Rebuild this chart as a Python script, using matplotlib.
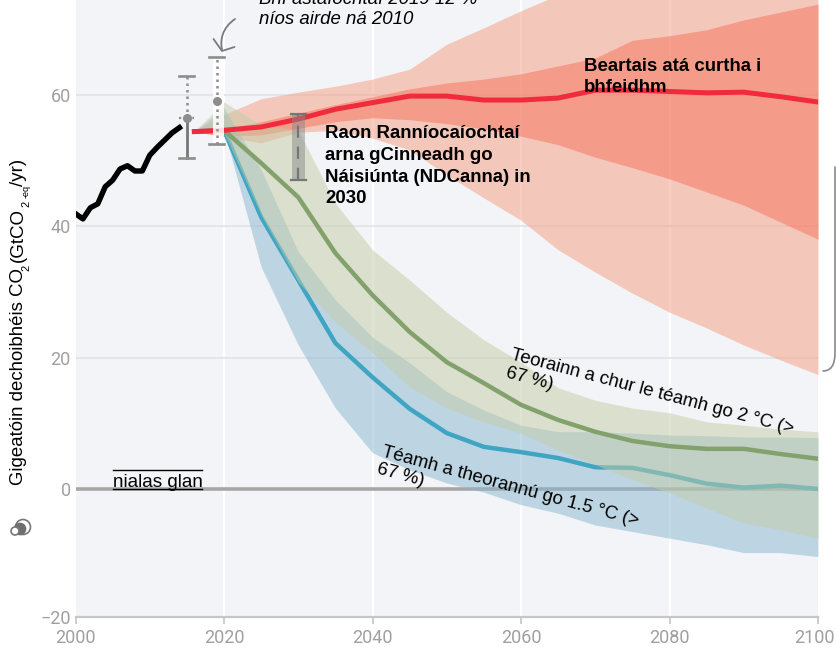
import matplotlib
matplotlib.use("Agg")
import logging
logging.getLogger("matplotlib.font_manager").setLevel(logging.ERROR)
import matplotlib.pyplot as plt
from matplotlib.path import Path
from matplotlib.patches import PathPatch, Circle
from matplotlib.lines import Line2D
from matplotlib.transforms import IdentityTransform, ScaledTranslation

plt.rcParams['font.family'] = ['Liberation Sans', 'DejaVu Sans']

hist_years = list(range(2000, 2015))
hist_vals = [41.9, 41.1, 42.8, 43.4, 46.0, 47.0, 48.7, 49.2, 48.4, 48.4, 50.8, 52.0, 53.1, 54.2, 55.0]

years = [2016, 2020, 2025, 2030, 2035, 2040, 2045, 2050, 2055, 2060, 2065, 2070, 2075, 2080, 2085, 2090, 2095, 2100]

policy_mid = [54.4, 54.6, 55.1, 56.3, 57.8, 58.8, 59.8, 59.8, 59.2, 59.2, 59.5, 60.7, 60.7, 60.5, 60.3, 60.4, 59.7, 58.9]
policy_hi_inner = [54.4, 54.8, 55.9, 57.2, 58.5, 59.7, 60.9, 61.8, 62.4, 63.2, 64.4, 65.6, 68.3, 69.0, 69.9, 71.4, 72.6, 73.8]
policy_lo_inner = [54.4, 53.7, 53.9, 54.9, 55.9, 56.5, 56.2, 55.6, 54.8, 53.7, 52.4, 50.5, 48.9, 47.2, 45.2, 43.2, 40.6, 38.0]
policy_hi_outer = [54.4, 57.0, 59.4, 60.4, 61.3, 62.4, 63.9, 67.7, 70.2, 72.8, 75.2, 76.7, 78.5, 80.0, 82.0, 84.0, 86.0, 88.0]
policy_lo_outer = [54.4, 53.6, 52.7, 54.3, 54.6, 53.4, 51.6, 47.8, 44.3, 40.9, 36.4, 33.0, 29.8, 26.9, 24.5, 21.9, 19.6, 17.4]

two_mid = [54.4, 54.6, 49.6, 44.4, 35.9, 29.5, 23.9, 19.3, 16.1, 12.8, 10.5, 8.7, 7.3, 6.5, 6.1, 6.1, 5.3, 4.6]
two_hi = [54.4, 58.9, 55.4, 54.6, 43.5, 36.4, 31.8, 26.9, 22.7, 19.3, 15.4, 13.5, 12.3, 11.6, 10.2, 9.7, 9.1, 8.7]
two_lo = [54.4, 54.2, 41.7, 31.5, 25.4, 20.7, 15.5, 12.3, 10.2, 8.5, 5.9, 3.7, 1.4, -0.6, -2.9, -5.2, -6.2, -7.6]

one_mid = [54.4, 54.6, 41.4, 31.8, 22.2, 17.0, 12.2, 8.5, 6.4, 5.6, 4.7, 3.3, 3.2, 2.1, 0.8, 0.2, 0.5, 0.0]
one_hi = [54.4, 58.0, 48.6, 36.1, 28.8, 23.1, 19.2, 14.8, 12.0, 9.7, 8.7, 8.7, 8.5, 8.2, 8.1, 7.9, 7.9, 7.8]
one_lo = [54.4, 54.6, 33.8, 21.9, 12.3, 5.5, 2.9, 0.9, -0.5, -2.4, -3.7, -5.5, -6.5, -7.5, -8.5, -9.7, -9.7, -10.3]

whisk_years = [2015, 2019]
whisk_hi = [62.9, 65.7]
whisk_mid = [56.5, 59.0]
whisk_lo = [50.4, 52.5]

ndc_year = 2030
ndc_hi = 57.0
ndc_lo = 47.0

x_ticks = [2000, 2020, 2040, 2060, 2080, 2100]
y_grid = [20, 40, 60]
y_ticks = [-19.5, 0, 20, 40, 60]
y_labels = ['\u221220', '0', '20', '40', '60']

W, H = 836, 648
BG = '#f3f4f7'


def P(x, y):
    return x / W, 1 - y / H


fig = plt.figure(figsize=(W / 100, H / 100), dpi=100, facecolor='white')
ax = fig.add_axes([75.5 / W, (H - 617) / H, (818 - 75.5) / W, 617 / H])
ax.set_facecolor(BG)
ax.set_xlim(2000, 2100)
ax.set_ylim(-19.5, 74.43)

for s in ['top', 'right', 'left']:
    ax.spines[s].set_visible(False)
ax.spines['bottom'].set_color('#c6c6c6')
ax.spines['bottom'].set_linewidth(1.6)

tick_font = dict(family=['Roboto', 'DejaVu Sans'], size=13, color='#a0a0a0')
ax.set_xticks(x_ticks)
ax.set_xticklabels([str(v) for v in x_ticks], **tick_font)
ax.set_yticks(y_ticks)
ax.set_yticklabels(y_labels, **tick_font)
ax.tick_params(axis='x', length=5, width=1.1, color='#c0c0c0', pad=3.5)
ax.tick_params(axis='y', length=0, pad=3.5)
last = ax.get_xticklabels()[-1]
last.set_transform(last.get_transform() + ScaledTranslation(-4 / 100, 0, fig.dpi_scale_trans))

for v in x_ticks[1:-1]:
    ax.axvline(v, color='white', lw=1.7, zorder=1)
for v in y_grid:
    ax.axhline(v, color='#e2e3e7', lw=1.2, zorder=1.1)
ax.axhline(0, color='#a9a6a6', lw=2.6, zorder=1.2)

ax.fill_between(years, policy_lo_outer, policy_hi_outer, color='#f59c81', alpha=0.5, lw=0, zorder=2)
ax.fill_between(years, policy_lo_inner, policy_hi_inner, color='#f47258', alpha=0.5, lw=0, zorder=2.1)

ax.fill_between(years, one_lo, one_hi, color='#89b8cf', alpha=0.5, lw=0, zorder=3)
ax.plot(years, one_mid, color='#3fa5c2', lw=3.2, zorder=3.1, solid_joinstyle='round')
ax.fill_between(years, two_lo, two_hi, color='#c3cca7', alpha=0.5, lw=0, zorder=3.2)
ax.plot(years, two_mid, color='#82a16c', lw=3.2, zorder=3.3, solid_joinstyle='round')

ax.plot(years, policy_mid, color='#ef2b3d', lw=3.6, zorder=4, solid_joinstyle='round')
ax.plot(hist_years, hist_vals, color='black', lw=3.9, zorder=4, solid_joinstyle='round')

# emissions whiskers
GREY = '#8d8d8d'
ax.bar(whisk_years[1] + 0.25, whisk_hi[1] - whisk_lo[1], bottom=whisk_lo[1], width=1.5,
       color='white', alpha=0.85, lw=0, zorder=4.5)
for i, (yr, hi, mid, lo) in enumerate(zip(whisk_years, whisk_hi, whisk_mid, whisk_lo)):
    ax.plot([yr, yr], [mid, hi], color=GREY, lw=1.8, ls=(0, (1, 1.6)), zorder=5)
    if i == 0:
        ax.plot([yr, yr], [lo, mid], color='#777777', lw=2, zorder=5)
        ax.plot([yr - 1, yr + 1], [mid, mid], color=GREY, lw=1.6, ls=(0, (1, 1)), zorder=5)
    else:
        ax.plot([yr, yr], [lo, mid], color=GREY, lw=1.8, ls=(0, (1, 1.6)), zorder=5)
    for v in (hi, lo):
        ax.plot([yr - 1, yr + 1], [v, v], color=GREY, lw=1.9, zorder=5)
    ax.plot([yr], [mid], 'o', color=GREY, ms=6.5, mew=0, zorder=5.1)

# NDC range
ax.bar(ndc_year, ndc_hi - ndc_lo, bottom=ndc_lo, width=1.8, color='#8a8a8a', alpha=0.5, lw=0, zorder=4.6)
ax.plot([ndc_year, ndc_year], [ndc_lo, ndc_hi], color='#767676', lw=1.6, ls=(0, (5.5, 4)), zorder=5)
for v in (ndc_lo, ndc_hi):
    ax.plot([ndc_year - 1, ndc_year + 1], [v, v], color='#767676', lw=1.6, zorder=5)

# texts
body = dict(color='black', family=['Liberation Sans', 'DejaVu Sans'])
BIG = 13.4
fig.text(*P(259, 4), 'Bh\u00ed asta\u00edochta\u00ed 2019 12 %', fontsize=BIG, style='italic', **body)
fig.text(*P(259, 24.5), 'n\u00edos airde n\u00e1 2010', fontsize=BIG, style='italic', **body)
fig.text(*P(584, 71), 'Beartais at\u00e1 curtha i', fontsize=BIG, weight='bold', **body)
fig.text(*P(584, 92), 'bhfeidhm', fontsize=BIG, weight='bold', **body)
for t, yy in zip(['Raon Rann\u00edoca\u00edochta\u00ed', 'arna gCinneadh go', 'N\u00e1isi\u00fanta (NDCanna) in', '2030'],
                 [138, 160, 182, 203]):
    fig.text(*P(325, yy), t, fontsize=BIG, weight='bold', **body)
fig.text(*P(513, 347), 'Teorainn a chur le t\u00e9amh go 2 \u00b0C (>\n67 %)', fontsize=13.3, rotation=-14.8,
         rotation_mode='anchor', ha='left', va='top', linespacing=1.05, **body)
fig.text(*P(384, 444), 'T\u00e9amh a theorann\u00fa go 1.5 \u00b0C (>\n67 %)', fontsize=13.3, rotation=-15.2,
         rotation_mode='anchor', ha='left', va='top', linespacing=1.05, **body)
fig.text(*P(113, 487), 'nialas glan', fontsize=13.6, **body)
fig.add_artist(Line2D([113 / W, 202 / W], [1 - 470 / H, 1 - 470 / H], color='black', lw=1, transform=fig.transFigure))
fig.add_artist(Line2D([113 / W, 202 / W], [1 - 488.6 / H, 1 - 488.6 / H], color='black', lw=1, transform=fig.transFigure))

# y axis title, in pieces for its small subscripts
rot = dict(rotation=90, rotation_mode='anchor', ha='left', va='baseline')
for t, xx, yy, fs in [('Gigeat\u00f3in dechoibh\u00e9is CO', 23, 485, 13.4), ('2', 29, 271, 8),
                      ('(GtCO', 23, 262, 13.5), ('2', 29, 207, 8), ('-eq', 29, 198, 6.5), ('/yr)', 23, 186, 13.5)]:
    fig.text(*P(xx, yy), t, fontsize=fs, **rot, **body)


def curve(pts, codes, color, lw):
    xy = [P(*p) for p in pts]
    fig.add_artist(PathPatch(Path(xy, codes), fill=False, edgecolor=color, lw=lw, transform=fig.transFigure,
                             capstyle='round', joinstyle='round'))


# hand-drawn arrow
curve([(235, 19), (222, 28), (220, 40), (222, 50)], [Path.MOVETO, Path.CURVE4, Path.CURVE4, Path.CURVE4], '#7a7a7a', 1.3)
curve([(213.5, 39), (222, 51), (234.5, 47)], [Path.MOVETO, Path.LINETO, Path.LINETO], '#7a7a7a', 1.3)
# brace at the right edge
curve([(835, 167), (835, 353), (835, 371), (823, 371)],
      [Path.MOVETO, Path.LINETO, Path.CURVE3, Path.CURVE3], '#8a8a8a', 1.2)

# small icon
for (cx, cy, r, fc, ec) in [(23, 527, 7.5, 'white', '#777777'), (20, 529, 5.5, '#6f6f6f', '#6f6f6f'),
                            (15, 531, 4, 'white', '#777777')]:
    fig.add_artist(Circle((cx, H - cy), r, facecolor=fc, edgecolor=ec, lw=1.2, transform=IdentityTransform()))

fig.savefig('out.png', dpi=100, facecolor='white')
